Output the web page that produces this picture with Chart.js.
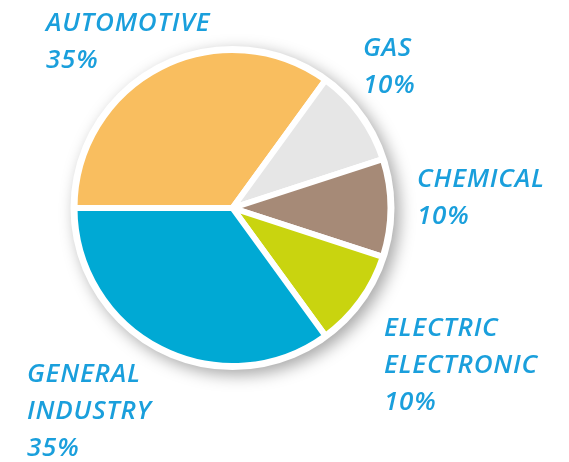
<!DOCTYPE html>
<html>
<head>
<meta charset="utf-8">
<script src="https://cdn.jsdelivr.net/npm/chart.js@4.4.0/dist/chart.umd.min.js"></script>
<style>
  html, body { margin: 0; padding: 0; background: #ffffff; }
  #wrap { width: 569px; height: 462px; position: relative; }
</style>
</head>
<body>
<div id="wrap"><canvas id="sector-pie"></canvas></div>
<script>
var sectors = ['AUTOMOTIVE', 'GAS', 'CHEMICAL', 'ELECTRIC ELECTRONIC', 'GENERAL INDUSTRY'];
var sectorLines = [['AUTOMOTIVE'], ['GAS'], ['CHEMICAL'], ['ELECTRIC', 'ELECTRONIC'], ['GENERAL', 'INDUSTRY']];
var shares = [35, 10, 10, 10, 35];
var sliceColors = ['#f9be5f', '#e6e6e6', '#a68a77', '#c9d40f', '#00a9d4'];

// where each text block starts (left x, first baseline y)
var labelSpots = [[46, 31], [363, 56], [417, 187], [384, 336], [27, 382]];

var shadowPlugin = {
    id: 'pieShadow',
    beforeDatasetsDraw: function(chart) {
        var arc = chart.getDatasetMeta(0).data[0];
        var ctx = chart.ctx;
        ctx.save();
        ctx.shadowColor = 'rgba(0, 0, 0, 0.35)';
        ctx.shadowBlur = 16;
        ctx.shadowOffsetX = 5;
        ctx.shadowOffsetY = 5;
        ctx.fillStyle = '#ffffff';
        ctx.beginPath();
        ctx.arc(arc.x, arc.y, arc.outerRadius + 4, 0, Math.PI * 2);
        ctx.fill();
        ctx.restore();
    }
};

var labelPlugin = {
    id: 'sectorLabels',
    afterDraw: function(chart) {
        var ctx = chart.ctx;
        ctx.save();
        ctx.fillStyle = '#1a9fdc';
        ctx.font = 'italic 600 26px "Open Sans"';
        ctx.letterSpacing = '0.8px';
        ctx.textBaseline = 'alphabetic';
        sectorLines.forEach(function(lines, i) {
            var x = labelSpots[i][0];
            var y = labelSpots[i][1];
            var all = lines.concat([shares[i] + '%']);
            all.forEach(function(t, j) {
                ctx.fillText(t, x, y + j * 37);
            });
        });
        ctx.restore();
    }
};

var ctx = document.getElementById('sector-pie').getContext('2d');
var pieChart = new Chart(ctx, {
    type: 'pie',
    data: {
        labels: sectors,
        datasets: [{
            data: shares,
            backgroundColor: sliceColors,
            borderColor: '#ffffff',
            borderWidth: 6,
            borderAlign: 'center'
        }]
    },
    options: {
        responsive: true,
        maintainAspectRatio: false,
        animation: false,
        rotation: -90,
        layout: {
            padding: { left: 71, right: 175, top: 47, bottom: 93 }
        },
        plugins: {
            legend: { display: false },
            tooltip: { enabled: false }
        }
    },
    plugins: [shadowPlugin, labelPlugin]
});
</script>
</body>
</html>
